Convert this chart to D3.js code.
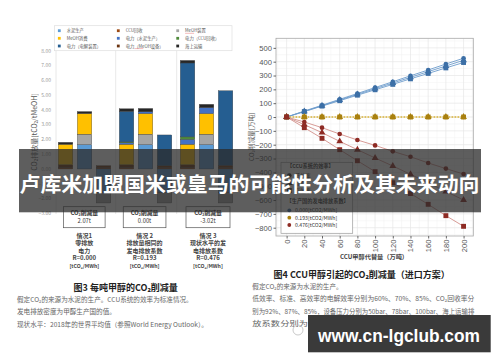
<!DOCTYPE html>
<html>
<head>
<meta charset="utf-8">
<script src="https://cdn.jsdelivr.net/npm/d3@7"></script>
<style>
body{margin:0;background:#fff;}
text{font-family:"Noto Sans CJK SC","Noto Sans",sans-serif;}
</style>
</head>
<body>
<div id="chart"></div>
<script>
// ---------- 图3 data ----------
var situations = ["情况1", "情况 2", "情况 3"];
var barsPerSituation = ["CCU", "传统", "差值"];
var components = ["CCU回收", "电力（MeOH设备）", "水泥生产", "MeOH装置", "MeOH消费",
                  "电力（水泥生产）", "电力（CCU回收）", "电力（电解装置）", "海上运输"];
var compColors = ["#9c4a14", "#6b3410", "#5b9bd5", "#a5a5a5", "#ffc000",
                  "#4472c4", "#4f8a3a", "#255e91", "#262626"];
var legendOrder = ["水泥生产", "CCU回收", "MeOH装置",
                   "MeOH消费", "电力（水泥生产）", "电力（CCU回收）",
                   "电力（电解装置）", "电力（MeOH设备）", "海上运输"];
// values per bar: s1 CCU, s1 传统, s1 差值, s2 ..., s3 ...
var ccuRecovery   = [0.12, 0,    0.12, 0.12, 0,    0.12, 0.12, 0,    0.12];
var powerMeoh     = [0.16, 0,    0.10, 0.16, 0,    0.10, 0.16, 0,    0.12];
var cement        = [0,    1.65, -1.6, 0,    1.65, -1.6, 0,    1.65, -1.6];
var meohPlant     = [0,    0.70, -0.7, 0,    0.70, -0.7, 0,    0.70, -0.7];
var meohUse       = [1.39, 1.40, 0,    1.39, 1.40, 0,    1.39, 1.40, 0];
var powerCement   = [0,    0,    0,    0.10, 0.12, 0,    0.33, 0.40, 0];
var powerCcu      = [0,    0,    0,    0.06, 0,    0,    0.17, 0,    0];
var powerElectro  = [0,    0,    0,    2.07, 0,    2.08, 5.00, 0,    5.05];
var shipping      = [0.13, 0.13, 0,    0.17, 0.22, 0,    0.17, 0.22, 0];
var reductionText = ["2.07t", "0.00t", "-3.02t"];
var situationText = [
  ["情况1", "零排放", "电力", "R=0.000", "[tCO₂/MWh]"],
  ["情况 2", "排放量相同的", "发电排放系数", "R=0.193", "[tCO₂/MWh]"],
  ["情况 3", "现状水平的发", "电排放系数", "R=0.476", "[tCO₂/MWh]"]
];
var fig3Ticks = [-3, -2, -1, 0, 1, 2, 3, 4, 5, 6, 7, 8];

// ---------- 图4 data ----------
var volume = [0, 20, 40, 60, 80, 100, 120, 140, 160, 180, 200];
var blueLow  = [0, 43, 85, 128, 170, 213, 255, 298, 340, 383, 425];
var blueStd  = [0, 41, 82, 123, 164, 205, 246, 287, 328, 369, 410];
var blueHigh = [0, 39, 79, 118, 158, 197, 236, 276, 315, 355, 394];
var yellowLow  = [0, 0, 0, 0, 0, 0, 0, 0, 0, 0, 0];
var yellowStd  = [0, 0, 0, 0, 0, 0, 0, 0, 0, 0, 0];
var yellowHigh = [0, 0, 0, 0, 0, 0, 0, 0, 0, 0, 0];
var redLow  = [0, -36, -77, -123, -166, -205, -248, -287, -332, -373, -412];
var redStd  = [0, -55, -113, -176, -236, -296, -354, -414, -475, -538, -600];
var redHigh = [0, -77, -154, -236, -316, -395, -475, -553, -631, -713, -790];
var fig4YTicks = [-800, -700, -600, -500, -400, -300, -200, -100, 0, 100, 200, 300, 400, 500];
var efficiencyNames = ["低效率", "标准", "高效率"];
var factorNames = ["0.000[tCO2/MWh]", "0.193[tCO2/MWh]", "0.476[tCO2/MWh]"];
var factorColors = ["#3c6fa6", "#a9800f", "#8e2b24"];
var factorLineColors = ["#6d9ccc", "#d9b84a", "#d3908a"];

var svg = d3.select("#chart").append("svg")
  .attr("width", 500).attr("height", 362);

// ================= 图3 =================
var y3 = d3.scaleLinear().domain([-3, 8]).range([213.3, 50.7]);
var xg = d3.scaleBand().domain([0, 1, 2]).range([56, 239]);
var xb = d3.scaleBand().domain([0, 1, 2]).range([2.3, 54.8]).paddingInner(0.237);

var f3 = svg.append("g");

// group separators
[0, 1, 2].forEach(function(g) {
  f3.append("line")
    .attr("x1", xg(g) - (g ? 1.3 : 0)).attr("x2", xg(g) - (g ? 1.3 : 0))
    .attr("y1", 50).attr("y2", 214)
    .attr("stroke", "#e2e2e2").attr("stroke-width", 0.8);
});

// y ticks
f3.selectAll(".t3").data(fig3Ticks).enter().append("text")
  .attr("x", 51).attr("y", function(d) { return y3(d) + 1.8; })
  .attr("text-anchor", "end")
  .style("font-size", "5px").style("fill", "#999")
  .text(function(d) { return d3.format(".2f")(d); });

f3.append("text")
  .attr("transform", "translate(36.5,132) rotate(-90)")
  .attr("text-anchor", "middle")
  .style("font-size", "7px").style("fill", "#555")
  .text("CO₂排放量[tCO₂/tMeOH]");

// stacked bars
var compArrays = [ccuRecovery, powerMeoh, cement, meohPlant, meohUse, powerCement, powerCcu, powerElectro, shipping];
var table = d3.range(9).map(function(i) {
  var row = {idx: i};
  components.forEach(function(c, k) { row[c] = compArrays[k][i]; });
  return row;
});
var series = d3.stack().keys(components).offset(d3.stackOffsetDiverging)(table);

series.forEach(function(s, k) {
  f3.selectAll(".seg" + k).data(s).enter().append("rect")
    .attr("x", function(d) { var i = d.data.idx; return xg(Math.floor(i / 3)) + xb(i % 3); })
    .attr("width", xb.bandwidth())
    .attr("y", function(d) { return y3(Math.max(d[0], d[1])); })
    .attr("height", function(d) { return Math.abs(y3(d[0]) - y3(d[1])); })
    .attr("fill", compColors[k])
    .attr("stroke", "#3a3a3a").attr("stroke-width", function(d) { return d[0] === d[1] ? 0 : 0.35; });
});

// legend
var lg = f3.append("g");
lg.append("rect").attr("x", 54.5).attr("y", 25.7).attr("width", 177.5).attr("height", 25)
  .attr("fill", "#fff").attr("stroke", "#dedede").attr("stroke-width", 0.7);
legendOrder.forEach(function(name, i) {
  var col = i % 3, row = Math.floor(i / 3);
  var lx = [59.3, 118.3, 177.7][col], ly = [30.7, 38.3, 46][row];
  lg.append("rect").attr("x", lx - 1.4).attr("y", ly - 1.4).attr("width", 2.8).attr("height", 2.8)
    .attr("fill", compColors[components.indexOf(name)]);
  lg.append("text").attr("x", lx + 7.4).attr("y", ly + 1.5)
    .style("font-size", "4.3px").style("fill", "#555").text(name);
  if (name.indexOf("MeOH") > -1 && name !== "MeOH消费") {
    var off = name === "MeOH装置" ? 0 : 8.6;
    lg.append("line").attr("x1", lx + 7.4 + off).attr("x2", lx + 7.4 + off + 9)
      .attr("y1", ly + 2.6).attr("y2", ly + 2.6).attr("stroke", "#e05050").attr("stroke-width", 0.4);
  }
});

// reduction boxes + situation text
situations.forEach(function(s, g) {
  var cx = [84.3, 144.6, 208][g];
  var bw = [41.6, 42.7, 44][g];
  f3.append("rect").attr("x", cx - bw / 2).attr("y", 206.7).attr("width", bw).attr("height", 21)
    .attr("fill", "#fff").attr("stroke", "#555").attr("stroke-width", 0.7);
  f3.append("text").attr("x", cx).attr("y", 214.8).attr("text-anchor", "middle")
    .style("font-size", "5.8px").style("font-weight", "bold").style("fill", "#333").text("CO₂削减量");
  f3.append("text").attr("x", cx).attr("y", 222.8).attr("text-anchor", "middle")
    .style("font-size", "5.8px").style("fill", "#333").text(reductionText[g]);
  situationText[g].forEach(function(line, j) {
    f3.append("text").attr("x", cx).attr("y", [237.8, 245.4, 252.9, 260.4, 267.8][j])
      .attr("text-anchor", "middle")
      .style("font-size", j === 4 ? "5.2px" : "6px").style("font-weight", "bold").style("fill", "#444")
      .text(line);
  });
});

f3.append("text").attr("x", 125.7).attr("y", 291).attr("text-anchor", "middle")
  .style("font-size", "9px").style("font-weight", "bold").style("fill", "#222")
  .text("图3 每吨甲醇的CO₂削减量");
["假定CO₂的来源为水泥的生产。CCU系统的效率为标准情况。",
 "发电排放密度为甲醇生产国的值。",
 "现状水平：2018年的世界平均值（参照World Energy Outlook）。"].forEach(function(t, j) {
  f3.append("text").attr("x", 17).attr("y", [301.8, 314.2, 326.6][j])
    .style("font-size", "6.6px").style("fill", "#666").text(t);
});

// ================= 图4 =================
var x4 = d3.scaleLinear().domain([-12, 211]).range([276, 473.3]);
var y4 = d3.scaleLinear().domain([-860, 569]).range([236, 38.3]);
var f4 = svg.append("g");

// minor + major grid
d3.range(-850, 569, 100).forEach(function(v) {
  f4.append("line").attr("x1", 276).attr("x2", 473.3).attr("y1", y4(v)).attr("y2", y4(v))
    .attr("stroke", "#f3f3f3").attr("stroke-width", 0.6);
});
d3.range(-10, 211, 20).forEach(function(v) {
  f4.append("line").attr("y1", 38.3).attr("y2", 236).attr("x1", x4(v)).attr("x2", x4(v))
    .attr("stroke", "#f3f3f3").attr("stroke-width", 0.6);
});
fig4YTicks.forEach(function(v) {
  f4.append("line").attr("x1", 276).attr("x2", 473.3).attr("y1", y4(v)).attr("y2", y4(v))
    .attr("stroke", "#e6e6e6").attr("stroke-width", 0.7);
});
volume.forEach(function(v) {
  f4.append("line").attr("y1", 38.3).attr("y2", 236).attr("x1", x4(v)).attr("x2", x4(v))
    .attr("stroke", "#e6e6e6").attr("stroke-width", 0.7);
});
f4.append("rect").attr("x", 276).attr("y", 38.3).attr("width", 197.3).attr("height", 197.7)
  .attr("fill", "none").attr("stroke", "#a8a8a8").attr("stroke-width", 0.8);

// axes
var yAxis4 = f4.append("g").attr("transform", "translate(276,0)")
  .call(d3.axisLeft(y4).tickValues(fig4YTicks).tickSize(2.5).tickPadding(1.5));
var xAxis4 = f4.append("g").attr("transform", "translate(0,236)")
  .call(d3.axisBottom(x4).tickValues(volume).tickSize(2.5));
[yAxis4, xAxis4].forEach(function(a) {
  a.select(".domain").remove();
  a.selectAll("line").attr("stroke", "#666");
  a.selectAll("text").style("font-size", "7.6px").style("fill", "#555")
    .style("font-family", "'Liberation Sans',sans-serif");
});
xAxis4.selectAll("text")
  .attr("transform", "rotate(-90)").attr("text-anchor", "end")
  .attr("x", -3.5).attr("y", 0).attr("dy", "0.32em");

f4.append("text").attr("x", 374).attr("y", 259.3).attr("text-anchor", "middle")
  .style("font-size", "6.2px").style("font-weight", "bold").style("fill", "#444")
  .text("CCU甲醇代替量（万吨）");
f4.append("text").attr("transform", "translate(254,137) rotate(-90)").attr("text-anchor", "middle")
  .style("font-size", "6.6px").style("fill", "#555").text("CO₂削减量[万吨]");

var shapes = [d3.symbolCircle, d3.symbolTriangle, d3.symbolSquare];
var shapeSizes = [17, 20, 24];
var fig4Data = [[blueLow, blueStd, blueHigh], [yellowLow, yellowStd, yellowHigh], [redLow, redStd, redHigh]];
var line4 = d3.line().x(function(d) { return x4(d[0]); }).y(function(d) { return y4(d[1]); });

fig4Data.forEach(function(group, f) {
  group.forEach(function(vals) {
    f4.append("path").datum(d3.zip(volume, vals))
      .attr("d", line4).attr("fill", "none")
      .attr("stroke", factorLineColors[f]).attr("stroke-width", 0.9)
      .attr("stroke-dasharray", f === 1 ? "1.6,1.4" : null);
  });
});
fig4Data.forEach(function(group, f) {
  var order = f === 1 ? [2, 0, 1] : [0, 1, 2];
  order.forEach(function(s) {
    f4.selectAll(".m" + f + s).data(d3.zip(volume, group[s])).enter().append("path")
      .attr("transform", function(d) { return "translate(" + x4(d[0]) + "," + y4(d[1]) + ")"; })
      .attr("d", d3.symbol().type(shapes[s]).size(shapeSizes[s]))
      .attr("fill", factorColors[f]);
  });
});

// legend 图4
var lg4 = f4.append("g");
lg4.append("rect").attr("x", 281).attr("y", 162.3).attr("width", 71.7).attr("height", 71)
  .attr("fill", "#fff").attr("stroke", "#9a9a9a").attr("stroke-width", 0.7);
lg4.append("text").attr("x", 287).attr("y", 167.6).style("font-size", "5.2px")
  .style("font-weight", "bold").style("fill", "#333").text("【CCU系统的效率】");
efficiencyNames.forEach(function(n, i) {
  var ly = 175.5 + i * 7.5;
  lg4.append("path").attr("transform", "translate(289.3," + ly + ")")
    .attr("d", d3.symbol().type(shapes[i]).size(shapeSizes[i])).attr("fill", "#333");
  lg4.append("text").attr("x", 295).attr("y", ly + 2).style("font-size", "5.2px").style("fill", "#333").text(n);
});
lg4.append("text").attr("x", 286.5).attr("y", 203.3).style("font-size", "5.2px")
  .style("font-weight", "bold").style("fill", "#333").text("【生产国的发电排放系数】");
factorNames.forEach(function(n, i) {
  var ly = [210.3, 217.7, 225][i];
  lg4.append("circle").attr("cx", 289.3).attr("cy", ly).attr("r", 1.9).attr("fill", factorColors[i]);
  lg4.append("text").attr("x", 295).attr("y", ly + 2).style("font-size", "5.2px").style("fill", "#333").text(n);
});

f4.append("text").attr("x", 361.7).attr("y", 278.3).attr("text-anchor", "middle")
  .style("font-size", "9px").style("font-weight", "bold").style("fill", "#222")
  .text("图4 CCU甲醇引起的CO₂削减量（进口方案）");
["假定CO₂的来源为水泥的生产。",
 "低效率、标准、高效率的电解效率分别为60%、70%、85%、CO₂回收率分",
 "别为92%、87%、85%，设备压力分别为50bar、78bar、100bar、海上运输排",
 "放系数分别为20g-CO₂/t-km、14.10g-CO₂/t-km、8.8g"].forEach(function(t, j) {
  f4.append("text").attr("x", 252.3).attr("y", [288.6, 301.4, 313.8, 326.2][j])
    .attr("textLength", j === 0 ? null : 222).attr("lengthAdjust", "spacingAndGlyphs")
    .style("font-size", "6.6px").style("fill", "#666").text(t);
});

// ================= overlays =================
svg.append("text").attr("x", 311).attr("y", 333)
  .style("font-size", "13px").style("fill", "#aaa").style("opacity", 0.55)
  .text("Aloaded前沿资讯介绍平台");
svg.append("circle").attr("cx", 298).attr("cy", 330).attr("r", 5)
  .attr("fill", "none").attr("stroke", "#bbb").attr("stroke-width", 0.8);

svg.append("rect").attr("x", 19).attr("y", 149).attr("width", 462).attr("height", 63.3)
  .attr("fill", "#2b2b2b").attr("opacity", 0.76);
svg.append("text").attr("x", 19.5).attr("y", 192.3)
  .attr("textLength", 460).attr("lengthAdjust", "spacingAndGlyphs")
  .style("font-size", "20.5px").style("font-weight", "bold").style("fill", "#fff")
  .text("卢库米加盟国米或皇马的可能性分析及其未来动向");

svg.append("rect").attr("x", 308).attr("y", 315).attr("width", 182.7).attr("height", 37.3)
  .attr("fill", "#3a3a3a");
svg.append("text").attr("x", 318).attr("y", 341.5)
  .attr("textLength", 162).attr("lengthAdjust", "spacingAndGlyphs")
  .style("font-family", "'Liberation Sans',sans-serif")
  .style("font-size", "18px").style("font-weight", "bold").style("fill", "#fff")
  .text("www.cn-lgclub.com");
</script>
</body>
</html>
